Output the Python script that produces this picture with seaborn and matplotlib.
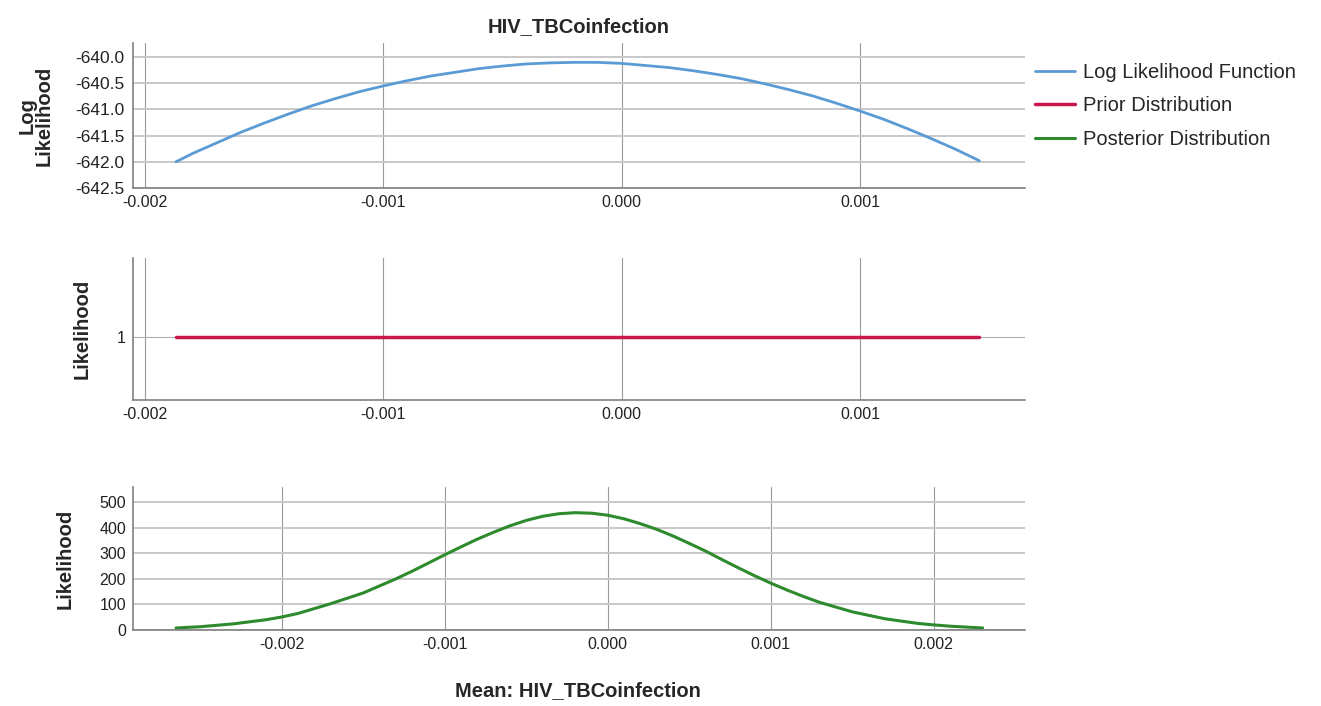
import matplotlib
matplotlib.use("Agg")
import matplotlib.pyplot as plt
import pandas as pd
import seaborn as sns

# Values
ll_x = [-0.00187, -0.0018, -0.0017, -0.0016, -0.0015, -0.0014, -0.0013, -0.0012,
        -0.0011, -0.001, -0.0009, -0.0008, -0.0007, -0.0006, -0.0005, -0.0004,
        -0.0003, -0.0002, -0.0001, 0.0, 0.0001, 0.0002, 0.0003, 0.0004, 0.0005,
        0.0006, 0.0007, 0.0008, 0.0009, 0.001, 0.0011, 0.0012, 0.0013, 0.0014, 0.0015]
ll_y = [-642.00, -641.84, -641.64, -641.44, -641.26, -641.09, -640.93, -640.79,
        -640.66, -640.55, -640.45, -640.36, -640.29, -640.22, -640.17, -640.13,
        -640.11, -640.10, -640.10, -640.12, -640.16, -640.20, -640.26, -640.33, -640.41,
        -640.51, -640.62, -640.74, -640.88, -641.03, -641.19, -641.37, -641.56, -641.76, -641.98]

prior_x = [-0.00187, 0.0015]
prior_y = [1, 1]

post_x = [-0.00265, -0.0025, -0.0023, -0.0021, -0.002, -0.0019, -0.0017, -0.0015,
          -0.0013, -0.0012, -0.0011, -0.001, -0.0009, -0.0008, -0.0007, -0.0006,
          -0.0005, -0.0004, -0.0003, -0.0002, -0.0001, 0.0, 0.0001, 0.0002, 0.0003,
          0.0004, 0.0005, 0.0006, 0.0007, 0.0008, 0.0009, 0.001, 0.0011, 0.0012,
          0.0013, 0.0015, 0.0017, 0.0019, 0.002, 0.0021, 0.0023]
post_y = [8, 13, 24, 40, 51, 65, 103, 145, 200, 230, 262, 294, 325, 355, 382, 407,
          428, 444, 454, 458, 456, 448, 434, 415, 393, 367, 338, 308, 275, 243, 212,
          183, 156, 131, 108, 71, 44, 26, 20, 15, 8]

top_xticks = [-0.002, -0.001, 0.0, 0.001]
top_yticks = [-640.0, -640.5, -641.0, -641.5, -642.0, -642.5]
bot_xticks = [-0.002, -0.001, 0.0, 0.001, 0.002]
bot_yticks = [0, 100, 200, 300, 400, 500]

labels = ["Log Likelihood Function", "Prior Distribution", "Posterior Distribution"]
colors = ["#5b9bd5", "#c8174b", "#2d8a2d"]

sns.set_style("white")
plt.rcParams['font.family'] = ['Liberation Sans', 'DejaVu Sans']

fig = plt.figure(figsize=(13.21, 7.06), dpi=100)
ax1 = fig.add_axes([0.1007, 0.7337, 0.675, 0.2054])
ax2 = fig.add_axes([0.1007, 0.4334, 0.675, 0.2011])
ax3 = fig.add_axes([0.1007, 0.1076, 0.675, 0.2025])

df_ll = pd.DataFrame({"x": ll_x, "y": ll_y})
df_prior = pd.DataFrame({"x": prior_x, "y": prior_y})
df_post = pd.DataFrame({"x": post_x, "y": post_y})

sns.lineplot(data=df_ll, x="x", y="y", ax=ax1, color=colors[0], lw=2,
             sort=False, estimator=None, label=labels[0], legend=False)
sns.lineplot(data=df_prior, x="x", y="y", ax=ax2, color=colors[1], lw=2.5,
             sort=False, estimator=None, label=labels[1], legend=False)
sns.lineplot(data=df_post, x="x", y="y", ax=ax3, color=colors[2], lw=2.2,
             sort=False, estimator=None, label=labels[2], legend=False)

ax1.set_xlim(-0.00205, 0.00169)
ax1.set_ylim(-642.5, -639.73)
ax1.set_xticks(top_xticks)
ax1.set_xticklabels([f"{v:.3f}" for v in top_xticks])
ax1.set_yticks(top_yticks)
ax1.set_yticklabels([f"{v:.1f}" for v in top_yticks])

ax2.set_xlim(-0.00205, 0.00169)
ax2.set_ylim(0.556, 1.556)
ax2.set_xticks(top_xticks)
ax2.set_xticklabels([f"{v:.3f}" for v in top_xticks])
ax2.set_yticks([1])
ax2.set_yticklabels(["1"])

ax3.set_xlim(-0.002914, 0.002558)
ax3.set_ylim(0, 558)
ax3.set_xticks(bot_xticks)
ax3.set_xticklabels([f"{v:.3f}" for v in bot_xticks])
ax3.set_yticks(bot_yticks)
ax3.set_yticklabels([str(v) for v in bot_yticks])

for ax in (ax1, ax2, ax3):
    ax.set_axisbelow(True)
    ax.xaxis.grid(True, color="#9a9a9a", lw=0.8)
    ax.yaxis.grid(True, color="#c8c8c8", lw=1.4)
    for s in ("top", "right"):
        ax.spines[s].set_visible(False)
    for s in ("left", "bottom"):
        ax.spines[s].set_color("#808080")
        ax.spines[s].set_linewidth(1.2)
    ax.tick_params(axis="both", length=0, labelsize=11.5, colors="#222222", pad=5)
    ax.set_xlabel("")
    ax.set_ylabel("")

ax1.tick_params(axis="y", labelsize=12.5, pad=6)
ax2.yaxis.grid(True, color="#b0b0b0", lw=0.8)

ax1.set_ylabel("Log\nLikelihood", fontsize=14.5, fontweight="bold", linespacing=0.85)
ax1.yaxis.set_label_coords(-0.089, 0.5)
ax2.set_ylabel("Likelihood", fontsize=14.5, fontweight="bold")
ax2.yaxis.set_label_coords(-0.046, 0.5)
ax3.set_ylabel("Likelihood", fontsize=14.5, fontweight="bold")
ax3.yaxis.set_label_coords(-0.066, 0.5)
ax3.set_xlabel("Mean: HIV_TBCoinfection", fontsize=14.5, fontweight="bold")
ax3.xaxis.set_label_coords(0.499, -0.36)
ax1.set_title("HIV_TBCoinfection", fontsize=14.5, fontweight="bold", pad=8)

handles = [ax1.lines[0], ax2.lines[0], ax3.lines[0]]
fig.legend(handles, labels, loc="upper left", bbox_to_anchor=(0.776, 0.9255),
           frameon=False, borderpad=0, handlelength=2.0, handletextpad=0.4,
           labelspacing=0.72, fontsize=14.5)

fig.savefig("out.png", dpi=100)
